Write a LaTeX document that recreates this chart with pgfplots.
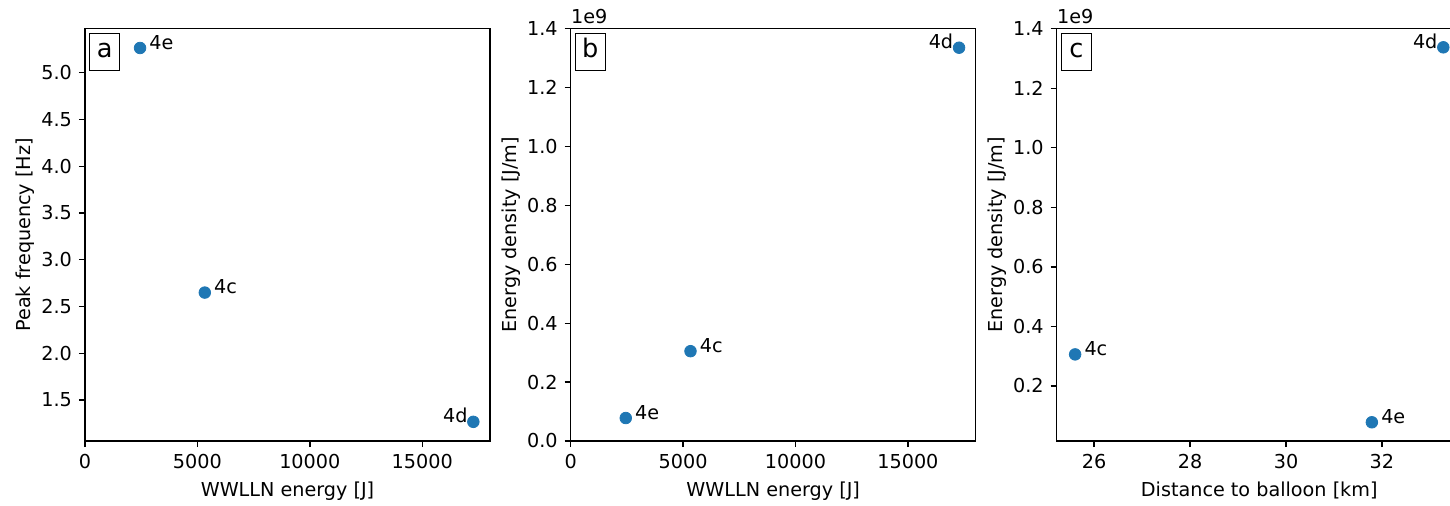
\documentclass[border=0pt]{standalone}
\usepackage{fontspec}
\setmainfont{DejaVu Sans}
\usepackage{pgfplots}
\usepackage{pgfplotstable}
\pgfplotsset{compat=1.18}
\definecolor{mplblue}{RGB}{31,119,180}

% points labelled on the right (W) and on the left (E)
\pgfplotstableread{
x y label
2449 5.264 4e
5329 2.649 4c
}\dataAw
\pgfplotstableread{
x y label
17275 1.267 4d
}\dataAe
\pgfplotstableread{
x y label
2449 0.078e9 4e
5329 0.305e9 4c
}\dataBw
\pgfplotstableread{
x y label
17275 1.3355e9 4d
}\dataBe
\pgfplotstableread{
x y label
25.603 0.306e9 4c
31.79 0.078e9 4e
}\dataCw
\pgfplotstableread{
x y label
33.28 1.3375e9 4d
}\dataCe

\newcommand{\lblfont}{\fontsize{9.6}{11.5}\selectfont}
\tikzset{
  letter/.style={draw, line width=0.5pt, anchor=north west, inner sep=2pt,
    minimum width=14.7pt, text height=10.3pt, text depth=4.35pt,
    font=\fontsize{12.8}{14}\selectfont, xshift=2.2pt, yshift=-2pt},
}
\pgfplotsset{
  panel/.style={
    width=202.5pt, height=206.15pt, scale only axis,
    axis line style={line width=0.7pt},
    every tick/.style={black, line width=0.7pt},
    tick align=outside, major tick length=3pt,
    xtick pos=left, ytick pos=left,
    tick label style={font=\lblfont},
    label style={font=\lblfont},
    ylabel shift=-3.5pt,
    /pgf/number format/assume math mode=true,
    /pgf/number format/1000 sep={},
    scaled x ticks=false,
    clip=false,
  },
  sci9/.style={
    scaled y ticks=base 10:-9,
    ytick scale label code/.code={},
    yticklabel style={/pgf/number format/.cd, fixed, fixed zerofill, precision=1},
  },
  pts/.style={
    only marks, mark=*, mark size=2.9pt, color=mplblue,
    nodes near coords, point meta=explicit symbolic,
    every node near coord/.append style={yshift=2.95pt,
      inner sep=0pt, text height=6.95pt, text depth=0pt, text=black, font=\lblfont},
  },
  ptsW/.style={pts, every node near coord/.append style={anchor=west, xshift=4.5pt}},
  ptsE/.style={pts, every node near coord/.append style={anchor=east, xshift=-2.75pt}},
}

\begin{document}
\begin{tikzpicture}
\path[use as bounding box] (-42.5pt,-32pt) rectangle (682.5pt,220.5pt);
\clip (-42.5pt,-32pt) rectangle (682.5pt,220.5pt);

\begin{axis}[panel, at={(0,0)},
  xmin=0, xmax=18016, ymin=1.062, ymax=5.47,
  xtick={0,5000,10000,15000},
  ytick={1.5,2,2.5,3,3.5,4,4.5,5},
  yticklabel style={/pgf/number format/.cd, fixed, fixed zerofill, precision=1},
  xlabel={WWLLN energy [J]}, ylabel={Peak frequency [Hz]}]
  \addplot[ptsW] table[x=x, y=y, meta=label] {\dataAw};
  \addplot[ptsE] table[x=x, y=y, meta=label] {\dataAe};
  \node[letter] at (rel axis cs:0,1) {a};
\end{axis}

\begin{axis}[panel, sci9, at={(242.85pt,0)},
  xmin=0, xmax=18016, ymin=0, ymax=1.4e9,
  xtick={0,5000,10000,15000},
  ytick={0,2e8,4e8,6e8,8e8,1e9,1.2e9,1.4e9},
  xlabel={WWLLN energy [J]}, ylabel={Energy density [J/m]}]
  \addplot[ptsW] table[x=x, y=y, meta=label] {\dataBw};
  \addplot[ptsE] table[x=x, y=y, meta=label] {\dataBe};
  \node[letter] at (rel axis cs:0,1) {b};
  \node[anchor=base west, inner sep=0pt, font=\lblfont] at ([yshift=2.7pt]rel axis cs:0,1) {1e9};
\end{axis}

\begin{axis}[panel, sci9, at={(485.85pt,0)},
  xmin=25.219, xmax=33.664, ymin=0.0151e9, ymax=1.4e9,
  xtick={26,28,30,32},
  ytick={2e8,4e8,6e8,8e8,1e9,1.2e9,1.4e9},
  xlabel={Distance to balloon [km]}, ylabel={Energy density [J/m]}]
  \addplot[ptsW] table[x=x, y=y, meta=label] {\dataCw};
  \addplot[ptsE] table[x=x, y=y, meta=label] {\dataCe};
  \node[letter] at (rel axis cs:0,1) {c};
  \node[anchor=base west, inner sep=0pt, font=\lblfont] at ([yshift=2.7pt]rel axis cs:0,1) {1e9};
\end{axis}
\end{tikzpicture}
\end{document}
